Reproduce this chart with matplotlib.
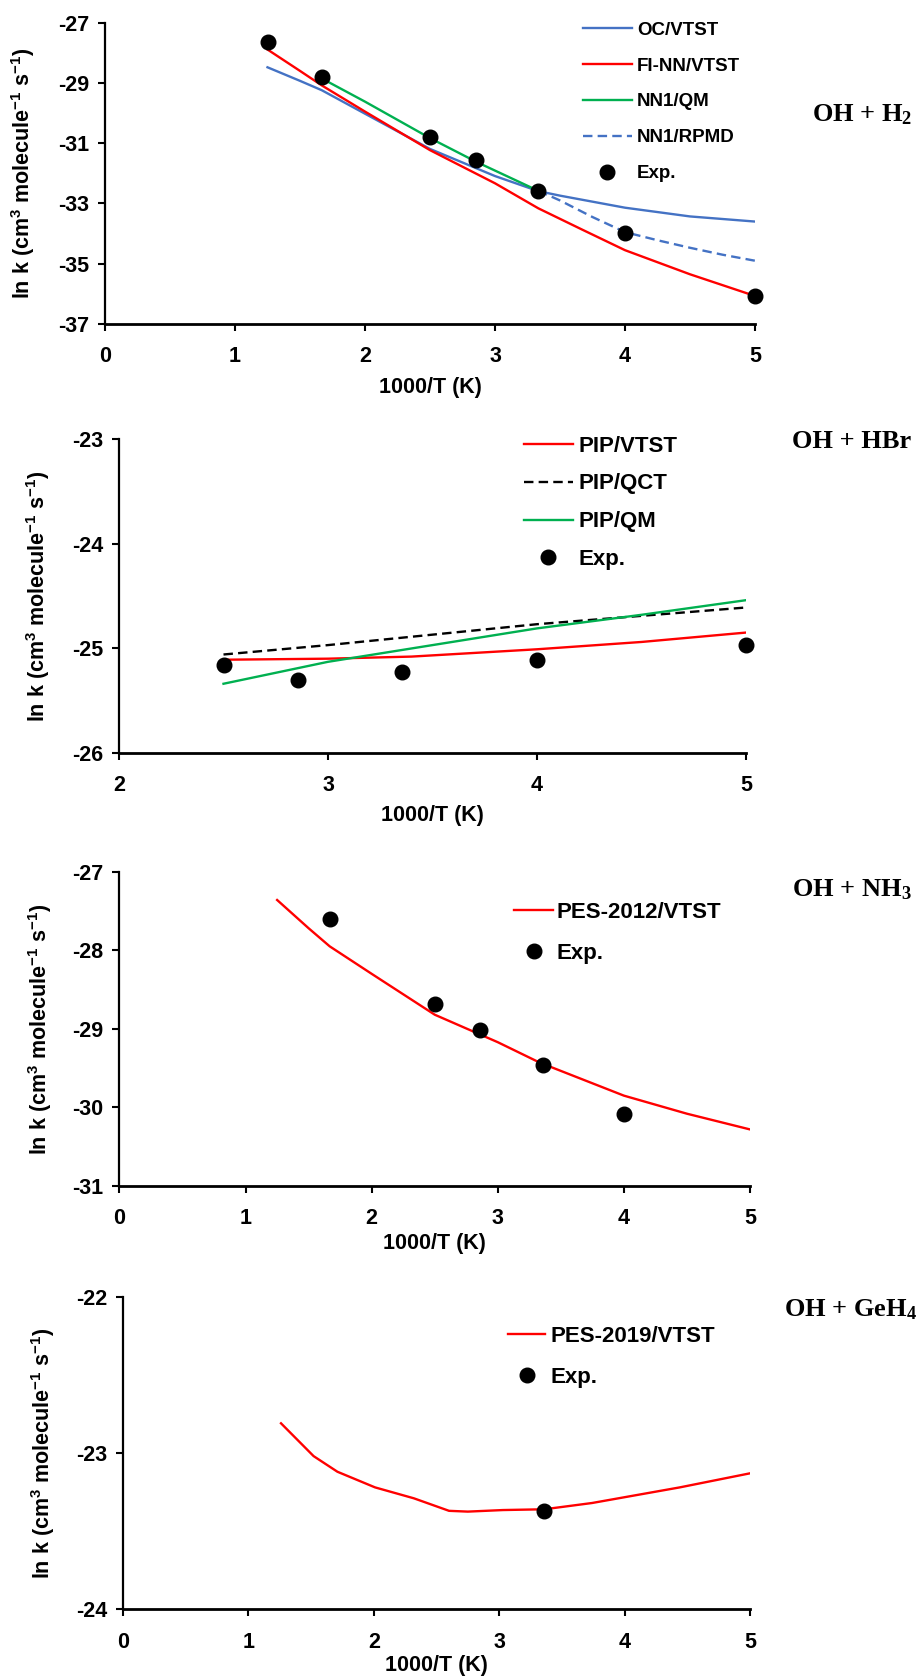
import matplotlib
matplotlib.use("Agg")
import matplotlib.pyplot as plt

plt.rcParams['font.family'] = ['Liberation Sans', 'DejaVu Sans']
plt.rcParams['font.weight'] = 'bold'
plt.rcParams['mathtext.default'] = 'regular'

# ---------------- data ----------------
# Panel 1: OH + H2
h2_exp_x = [1.25, 1.667, 2.5, 2.857, 3.333, 4.0, 5.0]
h2_exp_y = [-27.65, -28.80, -30.80, -31.56, -32.58, -33.99, -36.08]
h2_oc_x = [1.25, 1.5, 1.667, 2.0, 2.5, 3.0, 3.333, 3.5, 4.0, 4.5, 5.0]
h2_oc_y = [-28.48, -28.93, -29.24, -30.02, -31.19, -32.09, -32.59, -32.74, -33.14, -33.43, -33.60]
h2_fi_x = [1.25, 1.5, 1.667, 2.0, 2.5, 3.0, 3.333, 3.667, 4.0, 4.5, 5.0]
h2_fi_y = [-27.89, -28.60, -29.08, -29.95, -31.23, -32.33, -33.16, -33.86, -34.55, -35.35, -36.07]
h2_qm_x = [1.667, 2.0, 2.5, 2.857, 3.333]
h2_qm_y = [-28.85, -29.62, -30.83, -31.62, -32.58]
h2_rpmd_x = [3.333, 3.5, 3.75, 4.0, 4.25, 4.5, 4.75, 5.0]
h2_rpmd_y = [-32.58, -32.90, -33.45, -33.95, -34.22, -34.47, -34.70, -34.90]

# Panel 2: OH + HBr
hbr_exp_x = [2.5, 2.857, 3.356, 4.0, 5.0]
hbr_exp_y = [-25.16, -25.30, -25.23, -25.11, -24.97]
hbr_vtst_x = [2.5, 3.0, 3.4, 4.0, 4.5, 5.0]
hbr_vtst_y = [-25.11, -25.10, -25.08, -25.01, -24.94, -24.85]
hbr_qct_x = [2.5, 3.0, 3.5, 4.0, 4.5, 5.0]
hbr_qct_y = [-25.06, -24.97, -24.87, -24.77, -24.69, -24.61]
hbr_qm_x = [2.5, 3.0, 3.5, 4.0, 4.5, 5.0]
hbr_qm_y = [-25.34, -25.13, -24.97, -24.81, -24.68, -24.54]

# Panel 3: OH + NH3
nh3_exp_x = [1.667, 2.5, 2.857, 3.356, 4.0]
nh3_exp_y = [-27.60, -28.69, -29.02, -29.46, -30.08]
nh3_vtst_x = [1.25, 1.5, 1.667, 2.0, 2.5, 3.0, 3.333, 4.0, 4.5, 5.0]
nh3_vtst_y = [-27.36, -27.72, -27.95, -28.30, -28.82, -29.17, -29.43, -29.85, -30.08, -30.28]

# Panel 4: OH + GeH4
geh4_exp_x = [3.356]
geh4_exp_y = [-23.37]
geh4_vtst_x = [1.26, 1.52, 1.71, 2.01, 2.32, 2.60, 2.75, 3.03, 3.36, 3.74, 4.02, 4.44, 5.0]
geh4_vtst_y = [-22.81, -23.02, -23.12, -23.22, -23.29, -23.37, -23.375, -23.365, -23.36, -23.32, -23.28, -23.22, -23.13]

BLUE = '#4472C4'
RED = '#FF0000'
GREEN = '#00B050'

W, H = 923, 1680
fig = plt.figure(figsize=(W / 100, H / 100), dpi=100)


def make_axes(x0, x1, ytop, ybot):
    return fig.add_axes([x0 / W, 1 - ybot / H, (x1 - x0) / W, (ybot - ytop) / H])


def style(ax, xlim, xticks, ylim, yticks, xlab_y, ylab_x):
    ax.set_xlim(*xlim)
    ax.set_ylim(*ylim)
    ax.set_xticks(xticks)
    ax.set_yticks(yticks)
    ax.set_xticklabels([str(t) for t in xticks])
    ax.set_yticklabels([str(t) for t in yticks])
    for s in ['top', 'right']:
        ax.spines[s].set_visible(False)
    ax.spines['left'].set_linewidth(1.6)
    ax.spines['bottom'].set_linewidth(2.0)
    ax.tick_params(axis='both', direction='out', length=5, width=1.5,
                   labelsize=15.5, colors='black')
    ax.tick_params(axis='x', pad=11)
    ax.tick_params(axis='y', pad=6.5)
    for lab in ax.get_xticklabels() + ax.get_yticklabels():
        lab.set_fontweight('bold')
    ax.set_xlabel('1000/T (K)', fontsize=15.5, fontweight='bold')
    ax.xaxis.set_label_coords(0.5, xlab_y)
    ax.xaxis.label.set_va('center')
    ax.set_ylabel(r'ln k (cm$^3$ molecule$^{-1}$ s$^{-1}$)', fontsize=15.5, fontweight='bold')
    ax.yaxis.set_label_coords(ylab_x, 0.5)
    ax.yaxis.label.set_va('center')


def title(txt, x, y):
    fig.text(x / W, 1 - y / H, txt, family='Liberation Serif', fontweight='bold',
             fontsize=19, ha='left', va='center')


def legend(ax, fs, x, ytop, hl, htp, ls):
    ax.legend(loc='upper left', bbox_to_anchor=(x / W, 1 - ytop / H),
              bbox_transform=fig.transFigure, frameon=False, borderpad=0,
              borderaxespad=0, handlelength=hl, handletextpad=htp,
              labelspacing=ls, prop={'weight': 'bold', 'size': fs})


LW = 1.7
MS = 10.5
DASH = (4, 2.2)

# ---------- Panel 1 ----------
ax1 = make_axes(105, 755, 22.7, 324)
ax1.plot(h2_oc_x, h2_oc_y, color=BLUE, lw=LW, label='OC/VTST')
ax1.plot(h2_fi_x, h2_fi_y, color=RED, lw=LW, label='FI-NN/VTST')
ax1.plot(h2_qm_x, h2_qm_y, color=GREEN, lw=LW, label='NN1/QM')
ax1.plot(h2_rpmd_x, h2_rpmd_y, color=BLUE, lw=LW, dashes=DASH, label='NN1/RPMD')
ax1.plot(h2_exp_x, h2_exp_y, 'o', color='black', ms=MS, clip_on=False, zorder=5, label='Exp.')
style(ax1, (0, 5), [0, 1, 2, 3, 4, 5], (-37, -27), [-37, -35, -33, -31, -29, -27], -0.212, -0.126)
legend(ax1, 13.5, 583, 21.6, 2.61, 0.27, 1.0)
title(r'OH + H$_2$', 812, 115)

# ---------- Panel 2 ----------
ax2 = make_axes(119, 746, 439.3, 752.7)
ax2.plot(hbr_vtst_x, hbr_vtst_y, color=RED, lw=LW, label='PIP/VTST')
ax2.plot(hbr_qct_x, hbr_qct_y, color='black', lw=LW, dashes=DASH, label='PIP/QCT')
ax2.plot(hbr_qm_x, hbr_qm_y, color=GREEN, lw=LW, label='PIP/QM')
ax2.plot(hbr_exp_x, hbr_exp_y, 'o', color='black', ms=MS, clip_on=False, zorder=5, label='Exp.')
style(ax2, (2, 5), [2, 3, 4, 5], (-26, -23), [-26, -25, -24, -23], -0.199, -0.129)
legend(ax2, 16, 524, 435.6, 2.2, 0.27, 0.76)
title('OH + HBr', 792, 441)

# ---------- Panel 3 ----------
ax3 = make_axes(119.5, 750, 871.7, 1186)
ax3.plot(nh3_vtst_x, nh3_vtst_y, color=RED, lw=LW, label='PES-2012/VTST')
ax3.plot(nh3_exp_x, nh3_exp_y, 'o', color='black', ms=MS, clip_on=False, zorder=5, label='Exp.')
style(ax3, (0, 5), [0, 1, 2, 3, 4, 5], (-31, -27), [-31, -30, -29, -28, -27], -0.183, -0.126)
legend(ax3, 16, 514, 902.2, 1.76, 0.14, 0.88)
title(r'OH + NH$_3$', 792, 890)

# ---------- Panel 4 ----------
ax4 = make_axes(123, 750, 1296.7, 1609.3)
ax4.plot(geh4_vtst_x, geh4_vtst_y, color=RED, lw=LW, label='PES-2019/VTST')
ax4.plot(geh4_exp_x, geh4_exp_y, 'o', color='black', ms=MS, clip_on=False, zorder=5, label='Exp.')
style(ax4, (0, 5), [0, 1, 2, 3, 4, 5], (-24, -22), [-24, -23, -22], -0.180, -0.128)
legend(ax4, 16, 508, 1326.2, 1.67, 0.23, 0.88)
title(r'OH + GeH$_4$', 784, 1310)

fig.savefig('out.png', dpi=100)
